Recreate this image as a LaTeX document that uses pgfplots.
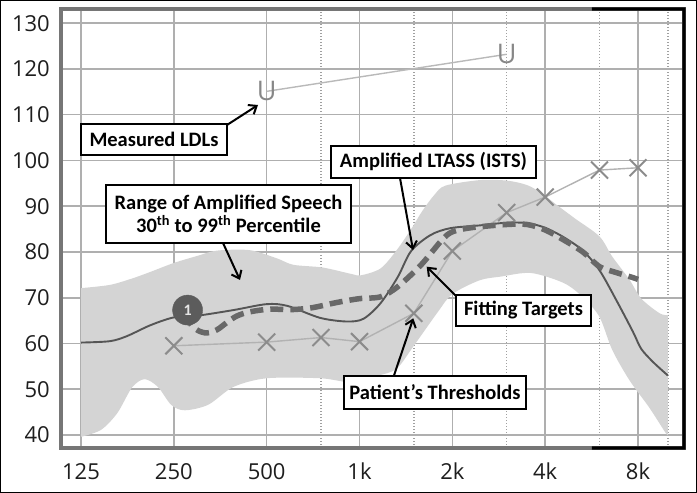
\documentclass[border=0pt]{standalone}
\usepackage{pgfplots}
\pgfplotsset{compat=1.18}
\usepgfplotslibrary{fillbetween}
\usetikzlibrary{arrows.meta,calc}
\usepackage{fontspec}
\setmainfont{Carlito}
\newfontfamily\tickfamily{Open Sans}

\definecolor{gridgray}{RGB}{175,175,175}
\definecolor{dotgray}{RGB}{160,160,160}
\definecolor{bandgray}{RGB}{212,212,212}
\definecolor{framegray}{RGB}{118,118,118}
\definecolor{ltass}{RGB}{85,85,85}
\definecolor{target}{RGB}{104,104,104}
\definecolor{thrline}{RGB}{178,178,178}
\definecolor{thrmark}{RGB}{140,140,140}
\definecolor{ldlline}{RGB}{185,185,185}
\definecolor{ldlmark}{RGB}{135,135,135}
\definecolor{pin}{RGB}{92,92,92}
\definecolor{tickcol}{RGB}{30,30,30}

\newcommand\tickfont{\tickfamily\fontsize{22bp}{24bp}\selectfont}
\newcommand\annfont{\bfseries\fontsize{20.5bp}{23bp}\selectfont}
\newcommand\ldlfont{\tickfamily\fontsize{27bp}{27bp}\selectfont}

\begin{document}
\begin{tikzpicture}[x=1bp,y=1bp]

\begin{axis}[
  name=ax,
  at={(61bp,45bp)}, anchor=south west,
  scale only axis, width=623bp, height=439bp,
  xmode=log, xmin=107.65, xmax=11279,
  ymin=37.16, ymax=133.1,
  axis line style={draw=none},
  xtick={125,250,500,1000,2000,4000,8000},
  xticklabels={125,250,500,1k,2k,4k,8k},
  minor xtick={750,1500,3000,6000,10000},
  ytick={40,50,60,70,80,90,100,110,120,130},
  yticklabels={40,50,60,70,80,90,100,110,120,130},
  major tick length=0pt, minor tick length=0pt,
  xmajorgrids, xminorgrids, ymajorgrids,
  major grid style={gridgray, line width=1.6bp},
  minor grid style={dotgray, line width=1.4bp, dash pattern=on 1.2bp off 1.8bp},
  ticklabel style={font=\tickfont, text=tickcol},
  yticklabel style={anchor=east, inner sep=0pt, xshift=-11bp},
  xticklabel style={anchor=north, inner sep=0pt, yshift=-15bp},
  set layers,
]

% range of amplified speech (30th to 99th percentile)
\addplot[name path=upper, draw=none, smooth, forget plot] coordinates {
  (125,72.1) (155,72.8) (183,74.2) (209,75.6) (250,77.6) (300,79.2)
  (345,80.3) (440,80.4) (540,78.6) (610,77.2) (760,76.6) (940,75.2)
  (1010,74.9) (1170,76.4) (1320,80.4) (1470,85) (1600,89) (1750,92.5)
  (1900,94.5) (2450,95.7) (3000,95.6) (3500,94.6) (3900,92.8) (4300,90.6)
  (5000,87.3) (6000,83.4) (6600,79) (7500,74) (8200,69.8) (9400,66.6) (10000,66.2)};
\addplot[name path=lower, draw=none, smooth, forget plot] coordinates {
  (125,39.6) (145,41.1) (164,44.8) (183,50.4) (201,52.2) (222,50.5)
  (245,46.6) (271,45.4) (323,46.6) (390,50.5) (500,52.4) (745,52.4)
  (910,51.6) (1000,52.3) (1150,53) (1320,54.5) (1500,59.5) (1800,67)
  (2000,70.8) (2450,73.8) (2860,74.6) (3600,75.4) (4600,73.2) (5300,70.1)
  (6000,65.8) (6600,58.6) (7500,52) (8700,46) (9800,40.6) (10000,40)};
\addplot[bandgray, on layer=axis background, forget plot] fill between[of=upper and lower];

% patient's thresholds
\addplot[thrline, line width=1.4bp, mark=x, mark size=12bp,
  mark options={thrmark, line width=2bp}] coordinates {
  (250,59.5) (500,60.3) (750,61.3) (1000,60.4) (1500,66.6)
  (2000,80.2) (3000,88.6) (4000,92) (6000,97.9) (8000,98.4)};

% measured LDLs
\addplot[ldlline, line width=1.4bp, mark=text, text mark={U},
  text mark as node=true,
  mark options={color=ldlmark},
  text mark style={font=\ldlfont, text=ldlmark, anchor=center, inner sep=0pt}]
  coordinates {(500,115.1) (3000,123.2)};

% amplified LTASS (ISTS)
\addplot[ltass, line width=1.9bp, smooth] coordinates {
  (125,60.2) (155,60.5) (176,61.6) (210,64) (250,65.7) (300,66.1)
  (390,67.3) (500,68.6) (585,68.2) (745,65.6) (910,64.8) (1030,65.4)
  (1170,68.8) (1330,74.5) (1470,80.2) (1700,83.7) (1970,85.2) (2450,85.8)
  (3000,86.4) (3500,86.3) (4000,85.3) (4600,83.2) (5300,80.3) (6000,76)
  (6800,69.5) (7700,62.6) (8200,58.8) (9000,55.8) (10000,53)};

% fitting targets
\addplot[target, line width=5.5bp, smooth, dash pattern=on 13bp off 7bp] coordinates {
  (272,66.5) (285,64) (300,62.8) (320,62.3) (345,63) (370,64.5)
  (400,66) (440,66.9) (510,67.5) (600,67.4) (700,67.8) (850,69)
  (1000,69.8) (1170,70.2) (1330,72.4) (1580,77.1) (1850,82.6) (2000,84.4)
  (2300,85.3) (3000,86) (3500,86) (4000,84.8) (4600,82.6) (5300,80)
  (6000,76.8) (6800,75.5) (7700,74.4) (8000,74)};

% channel marker
\addplot[only marks, mark=*, mark size=15bp, mark options={fill=pin, draw=pin},
  point meta=explicit symbolic, nodes near coords,
  nodes near coords style={anchor=center, inner sep=0pt, text=white!80!gray,
    font=\bfseries\fontsize{16bp}{16bp}\selectfont}]
  coordinates {(277,67.3) [1]};
\end{axis}

% frame
\draw[framegray, line width=4.5bp, line join=miter] (ax.south west) rectangle (ax.north east);
\draw[black, line width=3.2bp, line join=miter]
  ($(ax.south west)!0.852!(ax.south east)$) -- (ax.south east)
  -- (ax.north east) -- ($(ax.north west)!0.852!(ax.north east)$);

% call-outs
\tikzset{callout/.style={draw=black, line width=1.2bp, fill=white, inner sep=0pt,
    font=\annfont, align=center},
  pointer/.style={line width=2bp, -{Straight Barb[length=7bp,width=11bp,line width=2bp]}}}

\draw[pointer] (227,368) -- (258,388);
\node[callout, minimum width=146bp, minimum height=31bp] at (154,353.5) {Measured LDLs};

\draw[pointer] (223,250) -- (240,213);
\node[callout, minimum width=245bp, minimum height=58bp] at (228.5,279)
  {Range of Amplified Speech\\30\textsuperscript{th} to 99\textsuperscript{th} Percentile};

\draw[pointer] (400,315) -- (413,243);
\node[callout, minimum width=205bp, minimum height=32bp] at (433.5,331) {Amplified LTASS (ISTS)};

\draw[pointer] (456.7,196.3) -- (426.7,226.3);
\node[callout, minimum width=135bp, minimum height=31bp] at (523.5,182.5) {Fitting Targets};

\draw[pointer] (393.7,116.7) -- (413.3,174.7);
\node[callout, minimum width=182bp, minimum height=33bp] at (435,100.5) {Patient’s Thresholds};

% outer border
\draw[black, line width=1bp] (0.5,0.5) rectangle (696.5,492.5);

\pgfresetboundingbox
\useasboundingbox (0,0) rectangle (697,493);
\end{tikzpicture}
\end{document}
